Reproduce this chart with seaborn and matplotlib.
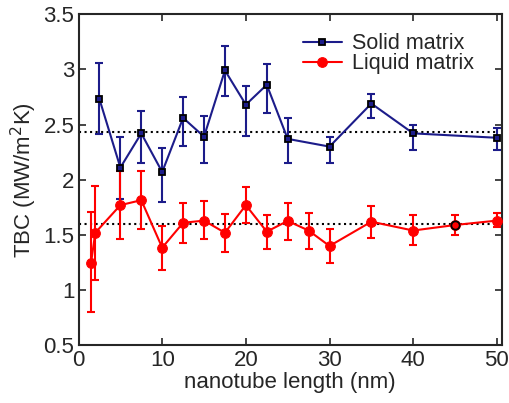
import numpy as np
import pandas as pd
import matplotlib
matplotlib.use('Agg')
import matplotlib.pyplot as plt
import seaborn as sns

# Solid matrix data
solid_len = [2.5, 5, 7.5, 10, 12.5, 15, 17.5, 20, 22.5, 25, 30, 35, 40, 50]
solid_tbc = [2.73, 2.11, 2.42, 2.07, 2.56, 2.39, 2.99, 2.68, 2.86, 2.37, 2.30, 2.69, 2.42, 2.38]
solid_lo = [2.41, 1.83, 2.15, 1.80, 2.31, 2.15, 2.76, 2.40, 2.60, 2.15, 2.15, 2.56, 2.27, 2.27]
solid_hi = [3.06, 2.39, 2.62, 2.29, 2.75, 2.58, 3.21, 2.85, 3.05, 2.56, 2.39, 2.78, 2.50, 2.47]

# Liquid matrix data
liquid_len = [1.5, 2, 5, 7.5, 10, 12.5, 15, 17.5, 20, 22.5, 25, 27.5, 30, 35, 40, 45, 50]
liquid_tbc = [1.25, 1.52, 1.77, 1.815, 1.385, 1.61, 1.63, 1.52, 1.77, 1.53, 1.627, 1.54, 1.40, 1.62, 1.54, 1.59, 1.63]
liquid_lo = [0.80, 1.09, 1.46, 1.55, 1.18, 1.43, 1.46, 1.35, 1.61, 1.37, 1.455, 1.37, 1.25, 1.47, 1.41, 1.50, 1.57]
liquid_hi = [1.71, 1.945, 2.08, 2.08, 1.58, 1.79, 1.81, 1.69, 1.93, 1.68, 1.79, 1.70, 1.55, 1.76, 1.68, 1.68, 1.70]

# mean levels (dotted)
solid_mean = 2.43
liquid_mean = 1.60

navy = '#1c1c8a'
red = '#ff0000'

sns.set_style('ticks')
plt.rcParams['font.family'] = ['Liberation Sans', 'DejaVu Sans']

fig = plt.figure(figsize=(5.1, 4.03), dpi=100)
ax = fig.add_axes([0.154, 0.143, 0.83, 0.822])

ax.plot([0, 50], [solid_mean, solid_mean], ':', color='black', lw=1.5, zorder=1)
ax.plot([0, 50], [liquid_mean, liquid_mean], ':', color='black', lw=1.5, zorder=1)

solid = pd.DataFrame({'len': solid_len, 'tbc': solid_tbc})
liquid = pd.DataFrame({'len': liquid_len, 'tbc': liquid_tbc})

ax.errorbar(solid_len, solid_tbc,
            yerr=[np.array(solid_tbc) - np.array(solid_lo), np.array(solid_hi) - np.array(solid_tbc)],
            fmt='none', ecolor=navy, elinewidth=1.5, capsize=3, capthick=1.5, zorder=2)
ax.errorbar(liquid_len, liquid_tbc,
            yerr=[np.array(liquid_tbc) - np.array(liquid_lo), np.array(liquid_hi) - np.array(liquid_tbc)],
            fmt='none', ecolor=red, elinewidth=1.5, capsize=3, capthick=1.5, zorder=2)

sns.lineplot(data=solid, x='len', y='tbc', ax=ax, color=navy, lw=1.5, marker='s',
             markersize=5, markerfacecolor=navy, markeredgecolor='black', markeredgewidth=1.3,
             label='Solid matrix', zorder=3)
sns.lineplot(data=liquid, x='len', y='tbc', ax=ax, color=red, lw=1.5, marker='o',
             markersize=7, markerfacecolor=red, markeredgecolor=red,
             label='Liquid matrix', zorder=3)
# point at 45 nm drawn with black edge
ax.plot([liquid_len[15]], [liquid_tbc[15]], 'o', ms=6, mfc=red, mec='black', mew=1.3, zorder=4)

ax.set_xlim(0, 50.6)
ax.set_ylim(0.5, 3.5)
ax.set_xticks([0, 10, 20, 30, 40, 50])
ax.set_yticks([0.5, 1, 1.5, 2, 2.5, 3, 3.5])
ax.set_yticklabels(['0.5', '1', '1.5', '2', '2.5', '3', '3.5'])
ax.tick_params(direction='in', top=True, right=True, labelsize=16, width=1.2, length=5, pad=3)
for s in ax.spines.values():
    s.set_linewidth(1.5)
    s.set_visible(True)

ax.set_xlabel('nanotube length (nm)', fontsize=16, labelpad=1)
ax.set_ylabel('TBC (MW/m$^2$K)', fontsize=16, labelpad=3)

leg = ax.legend(loc='upper left', frameon=False, fontsize=15.5, handlelength=1.8,
                handletextpad=0.5, borderaxespad=0, borderpad=0, labelspacing=-0.05,
                bbox_to_anchor=(0.53, 0.942))

fig.savefig('out.png', dpi=100)
